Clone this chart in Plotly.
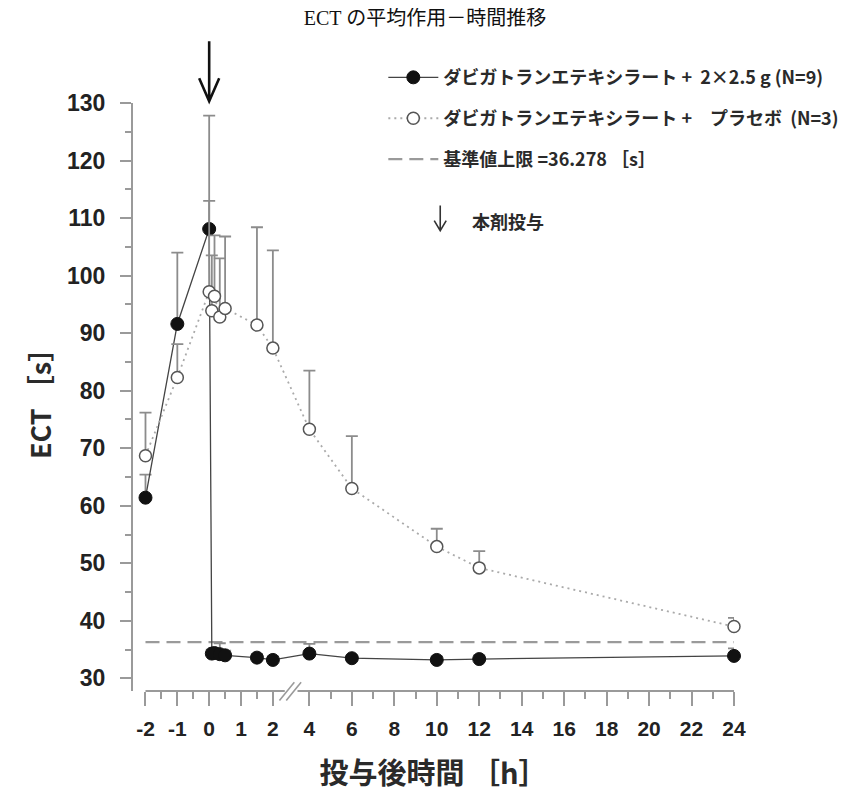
import plotly.graph_objects as go

# ---------------- data ----------------
hours = [-2, -1, 0, 0.083, 0.167, 0.333, 0.5, 1.5, 2, 4, 6, 10, 12, 24]

ect_active = [61.4, 91.6, 108.1, 34.3, 34.4, 34.2, 34.0, 33.6, 33.2, 34.3, 33.5, 33.2, 33.35, 33.9]
sd_active = [4.0, 12.4, 19.7, 0.7, 0.9, 1.9, 0.8, 0.6, 0.6, 1.7, 0.5, 0.6, 0.65, 1.3]

ect_placebo = [68.7, 82.3, 97.2, 93.9, 96.4, 92.8, 94.3, 91.4, 87.4, 73.3, 63.0, 52.9, 49.2, 39.0]
sd_placebo = [7.5, 5.8, 15.8, 9.6, 10.6, 10.2, 12.5, 17.0, 17.0, 10.2, 9.1, 3.1, 2.9, 1.5]

baseline_upper = 36.278
baseline_hours = [-2, 24]

xtick_hours = [-2, -1, 0, 1, 2, 4, 6, 8, 10, 12, 14, 16, 18, 20, 22, 24]
xminor_hours = [-1.5, -0.5, 0.5, 1.5, 5, 7, 9, 11, 13, 15, 17, 19, 21, 23]
ytick_vals = [30, 40, 50, 60, 70, 80, 90, 100, 110, 120, 130]

name_active = "ダビガトランエテキシラート +  2×2.5 g (N=9)"
name_placebo = "ダビガトランエテキシラート +　プラセボ  (N=3)"
name_base = "基準値上限 =36.278 ［s］"
dose_label = "本剤投与"

# ---------------- broken time axis ----------------
SEG1 = 1.5      # axis units per hour before the break
GAP = 0.72      # offset after the break


def hx(t):
    return SEG1 * t if t <= 2 else t + GAP


ax_hours = [hx(t) for t in hours]
minor_x = [hx(t) for t in xminor_hours]

GRAY = "#9a9a9a"
TXT = "#2a2a2a"
JP = "Noto Sans CJK JP"
NUM = "Liberation Sans, Arial, sans-serif"

fig = go.Figure()

fig.add_trace(go.Scatter(
    x=[hx(t) for t in baseline_hours], y=[baseline_upper] * 2,
    mode="lines", name=name_base, legendrank=3, legendgroup="c",
    line=dict(color=GRAY, width=2.2, dash="14px,7px"),
    hoverinfo="skip",
))

fig.add_trace(go.Scatter(
    x=ax_hours, y=ect_active, mode="lines+markers", name=name_active,
    legendrank=1, legendgroup="a",
    line=dict(color="#444444", width=1.3),
    marker=dict(symbol="circle", size=13, color="#111111",
                line=dict(color="#111111", width=1)),
    error_y=dict(type="data", array=sd_active, arrayminus=[0] * len(sd_active),
                 symmetric=False, color="#8c8c8c", thickness=1.8, width=6),
    cliponaxis=False,
))

fig.add_trace(go.Scatter(
    x=ax_hours, y=ect_placebo, mode="lines+markers", name=name_placebo,
    legendrank=2, legendgroup="b",
    line=dict(color="#aaaaaa", width=1.8, dash="2px,4px"),
    marker=dict(symbol="circle", size=12, color="white",
                line=dict(color="#555555", width=1.5)),
    error_y=dict(type="data", array=sd_placebo, arrayminus=[0] * len(sd_placebo),
                 symmetric=False, color="#8c8c8c", thickness=1.8, width=6),
    cliponaxis=False,
))

# plot geometry (pixels); page body adds an 8px offset
W, H = 843, 794
L, T = 124.5, 95.3
PW, PH = 601.5, 587.7
R, B = W - L - PW, H - T - PH
x_left = hx(-2) - 12.5 / 21.25
x_right = hx(24)
y_bottom = 27.8


def xpaper(t):
    return (hx(t) - x_left) / (x_right - x_left)


shapes = []
# x axis line, broken between 2 h and 4 h
brk = (hx(2) + hx(4)) / 2
shapes.append(dict(type="line", xref="x", yref="paper", x0=hx(-2), x1=brk - 0.3,
                   y0=0, y1=0, line=dict(color=GRAY, width=2)))
shapes.append(dict(type="line", xref="x", yref="paper", x0=brk + 0.3, x1=hx(24),
                   y0=0, y1=0, line=dict(color=GRAY, width=2)))
for off in (-0.2, 0.12):
    shapes.append(dict(type="line", xref="x", yref="paper",
                       x0=brk + off - 0.35, x1=brk + off + 0.35,
                       y0=-0.016, y1=0.015, line=dict(color=GRAY, width=1.6)))
# dosing arrow above t = 0
shapes.append(dict(type="path", xref="paper", yref="paper", xsizemode="pixel", ysizemode="pixel",
                   xanchor=xpaper(0), yanchor=1.003,
                   path="M0,60 L0,0 M-10,23 L0,0 L10,23",
                   line=dict(color="#111111", width=2.6)))
# small arrow in legend
shapes.append(dict(type="path", xref="paper", yref="paper", xsizemode="pixel", ysizemode="pixel",
                   xanchor=0.5112, yanchor=0.783,
                   path="M0,25 L0,0 M-6,10 L0,0 L6,10",
                   line=dict(color="#333333", width=1.6)))

fig.update_layout(
    width=W, height=H,
    margin=dict(l=L, r=R, t=T, b=B, autoexpand=False),
    paper_bgcolor="white", plot_bgcolor="white",
    title=dict(text="ECT の平均作用－時間推移", x=(425 - 8) / W, xanchor="center",
               y=1 - 10 / H, yanchor="middle", yref="container",
               font=dict(family="Liberation Serif, Noto Sans CJK JP", size=20, color="#111111")),
    showlegend=True,
    legend=dict(x=0.4165, y=1.0746, xanchor="left", yanchor="top",
                font=dict(family=JP, size=18, color=TXT, weight="bold"),
                bgcolor="rgba(0,0,0,0)", tracegroupgap=14.5, itemwidth=50,
                traceorder="grouped"),
    shapes=shapes,
    annotations=[dict(text=dose_label, xref="paper", yref="paper",
                      x=0.5611, y=0.8, xanchor="left", yanchor="middle",
                      showarrow=False, font=dict(family=JP, size=18, color=TXT, weight="bold"))],
    xaxis=dict(range=[x_left, x_right], showgrid=False, zeroline=False, showline=False,
               tickmode="array", tickvals=[hx(t) for t in xtick_hours],
               ticktext=[str(t) for t in xtick_hours],
               ticks="outside", ticklen=14, tickwidth=1.6, tickcolor=GRAY,
               minor=dict(tickmode="array", tickvals=minor_x, ticks="outside",
                          ticklen=7, tickwidth=1.6, tickcolor=GRAY),
               tickfont=dict(family=NUM, size=21, color="#222222", weight="bold"),
               ticklabelstandoff=5,
               title=dict(text="投与後時間 ［h］", standoff=24,
                          font=dict(family=JP, size=29, color=TXT, weight="bold")),
               fixedrange=True),
    yaxis=dict(range=[y_bottom, 130], showgrid=False, zeroline=False,
               showline=True, linecolor=GRAY, linewidth=2,
               tickmode="array", tickvals=ytick_vals,
               ticks="outside", ticklen=11, tickwidth=1.6, tickcolor=GRAY,
               minor=dict(dtick=5, tick0=0, ticks="outside", ticklen=6,
                          tickwidth=1.6, tickcolor=GRAY),
               tickfont=dict(family=NUM, size=23, color="#222222", weight="bold"),
               ticklabelstandoff=10,
               title=dict(text="ECT ［s］", standoff=8,
                          font=dict(family=JP, size=27, color=TXT, weight="bold")),
               fixedrange=True),
)

fig.write_html("out.html")
